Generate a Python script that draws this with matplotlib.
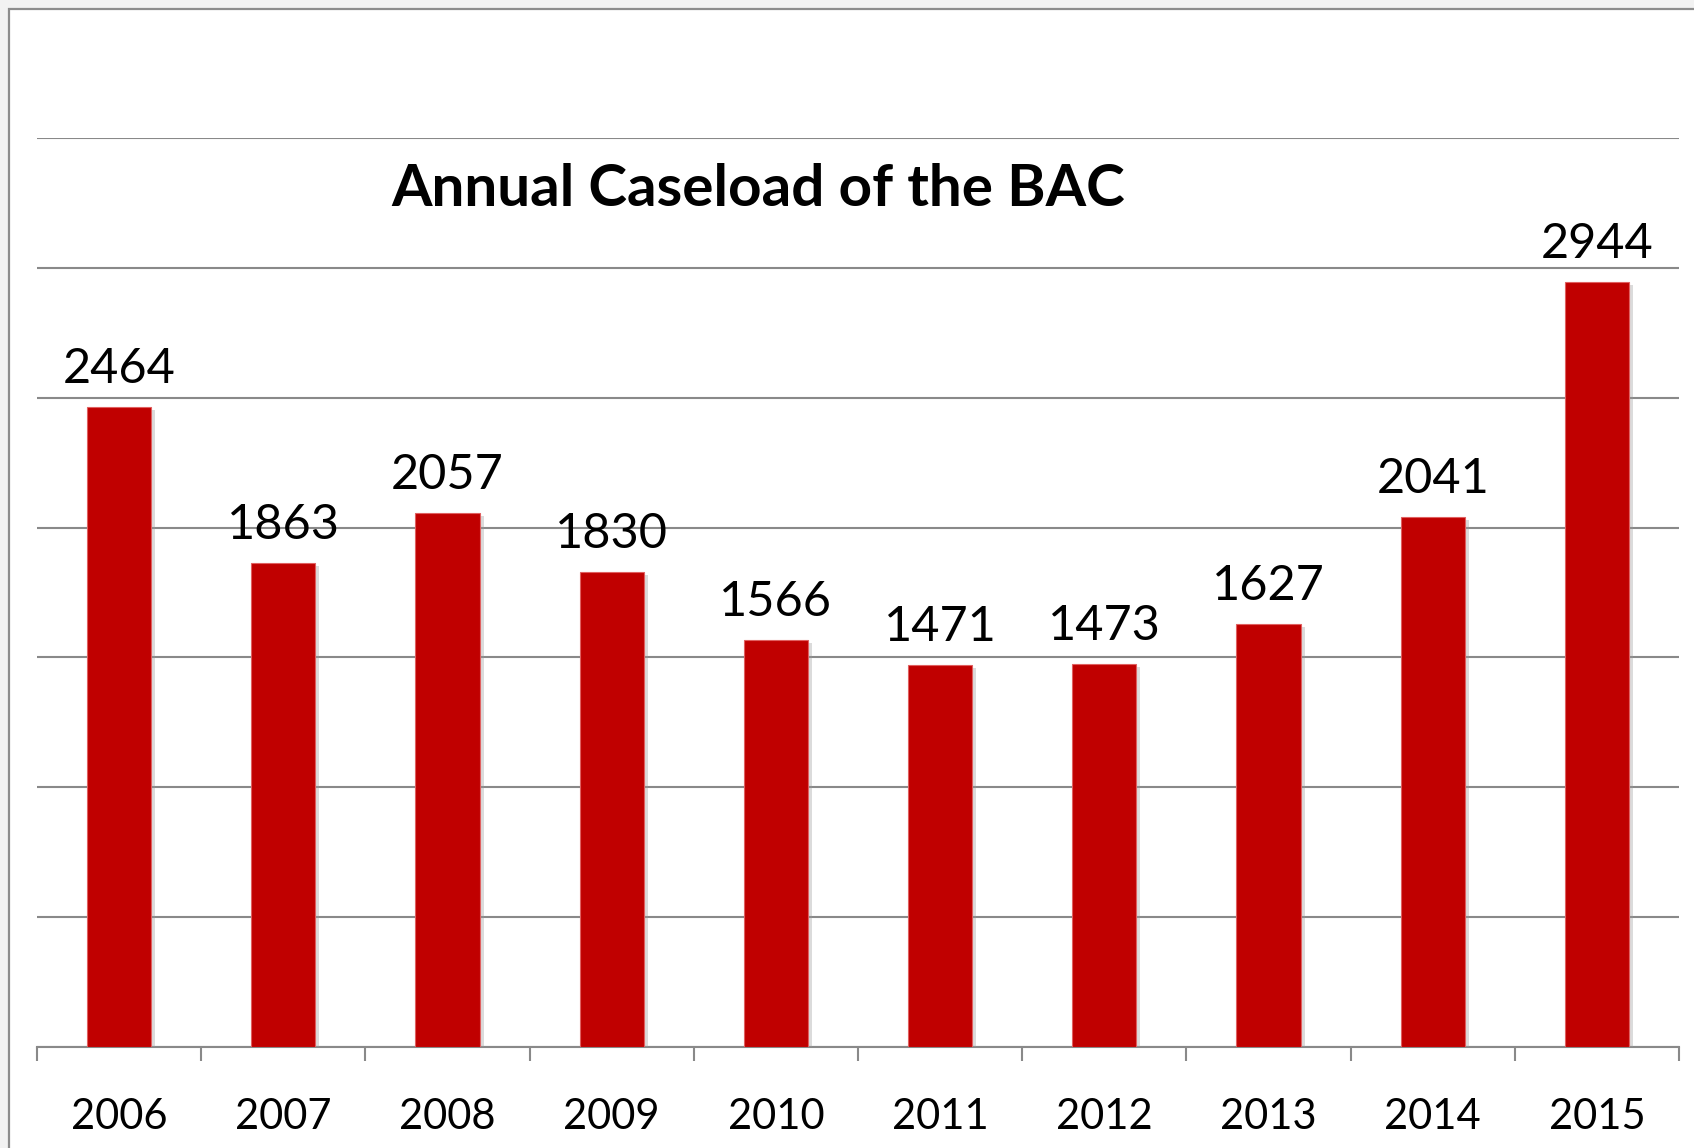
import matplotlib
matplotlib.use("Agg")
import matplotlib.pyplot as plt
from matplotlib.patches import Rectangle
import matplotlib.patheffects as pe

years = ["2006", "2007", "2008", "2009", "2010", "2011", "2012", "2013", "2014", "2015"]
caseload = [2464, 1863, 2057, 1830, 1566, 1471, 1473, 1627, 2041, 2944]
title = "Annual Caseload of the BAC"

W, H = 1694, 1148
fig = plt.figure(figsize=(W / 100, H / 100), dpi=100)
fig.patch.set_facecolor("#f2f2f2")

# white chart area frame
frame = Rectangle((9 / W, -0.05), 1.2, 1 - 9 / H + 0.05, transform=fig.transFigure,
                  facecolor="white", edgecolor="#8c8c8c", linewidth=1.6, zorder=-5)
fig.patches.append(frame)

ax = fig.add_axes([37 / W, 1 - 1047 / H, (1679 - 37) / W, (1047 - 138) / H])
ax.set_facecolor("none")
ax.set_zorder(2)

x = list(range(len(years)))
bars = ax.bar(x, caseload, width=0.39, color="#C00000", edgecolor="#e06060",
              linewidth=0.8, zorder=3)
for b in bars:
    b.set_path_effects([pe.SimplePatchShadow(offset=(3, -2), shadow_rgbFace="#9a9a9a", alpha=0.35),
                        pe.Normal()])

for xi, v in zip(x, caseload):
    ax.annotate(str(v), (xi, v), xytext=(0, 11.5), textcoords="offset points",
                ha="center", va="bottom", fontsize=35, fontfamily="Lato", color="black")

ax.set_xlim(-0.5, len(years) - 0.5)
ax.set_ylim(0, 3500)
ax.set_yticks(range(0, 3501, 500))
ax.yaxis.grid(True, color="#898989", linewidth=1.5, zorder=1)
ax.set_axisbelow(True)
ax.tick_params(axis="y", left=False, labelleft=False)

ax.set_xticks(x)
ax.set_xticklabels(years, fontsize=30, fontfamily="Lato")
ax.set_xticks([i - 0.5 for i in range(len(years) + 1)], minor=True)
ax.tick_params(axis="x", which="major", length=0, pad=37)
ax.tick_params(axis="x", which="minor", length=10, width=1.5, color="#898989", direction="out")

for s in ["left", "right", "top"]:
    ax.spines[s].set_visible(False)
ax.spines["bottom"].set_color("#898989")
ax.spines["bottom"].set_linewidth(1.5)

fig.text(758 / W, 1 - 190 / H, title, ha="center", va="center", fontsize=42,
         fontweight="bold", fontfamily="Lato", color="black", zorder=3)

fig.savefig("out.png", dpi=100, facecolor=fig.get_facecolor())
